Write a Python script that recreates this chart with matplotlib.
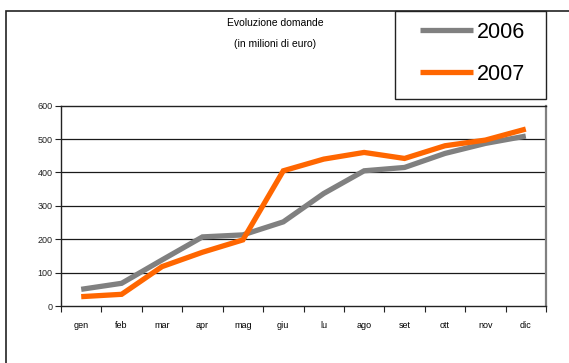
import matplotlib
matplotlib.use("Agg")
import matplotlib.pyplot as plt
from matplotlib.patches import Rectangle
import numpy as np

plt.rcParams['font.family'] = ['Liberation Sans', 'DejaVu Sans']

months = ["gen", "feb", "mar", "apr", "mag", "giu", "lu", "ago", "set", "ott", "nov", "dic"]
domande_2006 = [50, 68, 138, 207, 213, 252, 337, 405, 415, 457, 487, 509]
domande_2007 = [28, 35, 118, 161, 198, 405, 440, 460, 442, 480, 497, 530]
series_labels = ["2006", "2007"]
y_ticks = [0, 100, 200, 300, 400, 500, 600]

W, H = 569, 363
fig = plt.figure(figsize=(W / 100, H / 100), dpi=100)
fig.patch.set_facecolor("white")

# outer chart frame (runs off the right and bottom edges)
fig.patches.append(Rectangle((5.5 / W, -0.1), 1.2, 1 - 11 / H + 0.1,
                             transform=fig.transFigure, fill=False,
                             edgecolor="#222222", linewidth=1.2, clip_on=False))

ax = fig.add_axes([61 / W, 1 - 306 / H, (546 - 61) / W, (306 - 105.7) / H])
x = np.arange(len(months))

for yv in y_ticks[1:-1]:
    ax.axhline(yv, color="#1a1a1a", linewidth=0.9, zorder=1)

l06, = ax.plot(x, domande_2006, color="#808080", linewidth=3.8, zorder=3,
               solid_capstyle="butt", solid_joinstyle="miter")
l07, = ax.plot(x, domande_2007, color="#FF6600", linewidth=3.8, zorder=4,
               solid_capstyle="butt", solid_joinstyle="miter")

ax.set_xlim(-0.5, len(months) - 0.5)
ax.set_ylim(0, 600)
ax.set_yticks(y_ticks)
ax.set_yticklabels([str(v) for v in y_ticks], fontsize=6.5)
ax.tick_params(axis="y", length=4, width=0.8, pad=2, colors="#222222")

ax.set_xticks(np.arange(-0.5, len(months), 1.0))
ax.set_xticklabels([])
ax.set_xticks(x, minor=True)
ax.set_xticklabels(months, minor=True, fontsize=6.5)
ax.tick_params(axis="x", which="major", length=4, width=0.8, direction="out", colors="#222222")
ax.tick_params(axis="x", which="minor", length=0, pad=11)

for side in ["left", "bottom", "top"]:
    ax.spines[side].set_color("#222222")
    ax.spines[side].set_linewidth(1.0)
ax.spines["right"].set_color("#808080")
ax.spines["right"].set_linewidth(1.6)

fig.text(275 / W, 1 - 23 / H, "Evoluzione domande", ha="center", va="center", fontsize=7.5)
fig.text(275 / W, 1 - 44 / H, "(in milioni di euro)", ha="center", va="center", fontsize=7.5)

# legend box
fig.patches.append(Rectangle((395.3 / W, 1 - 99.3 / H), (546.3 - 395.3) / W, (99.3 - 11) / H,
                             transform=fig.transFigure, fill=False,
                             edgecolor="#222222", linewidth=1.0))
fig.legend([l06, l07], series_labels, loc="center",
           bbox_to_anchor=(472.5 / W, 1 - 53.3 / H), frameon=False,
           fontsize=15.5, handlelength=2.45, handletextpad=0.2,
           labelspacing=0.98, borderpad=0)

fig.savefig("out.png", dpi=100)
